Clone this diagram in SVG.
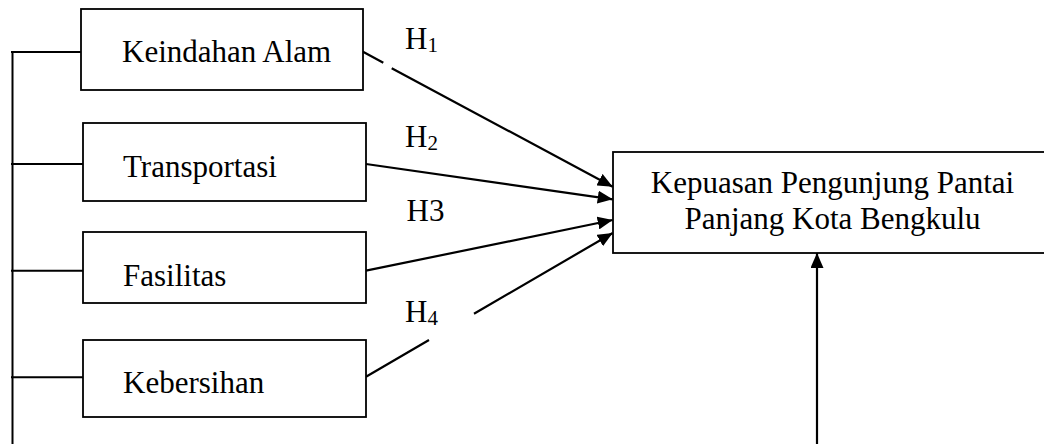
<svg xmlns="http://www.w3.org/2000/svg" width="1044" height="444" viewBox="0 0 1044 444">
  <style>
    .box { fill: #fff; stroke: #000; stroke-width: 1.8; }
    .lbl { font-family: "Liberation Serif", "Times New Roman", serif; font-size: 31px; fill: #000; }
    .sub { font-size: 21px; }
    .wire { fill: none; stroke: #000; stroke-width: 2; }
    .arrow { fill: none; stroke: #000; stroke-width: 2.2; marker-end: url(#head); }
  </style>
  <defs>
    <marker id="head" markerUnits="userSpaceOnUse" markerWidth="16" markerHeight="13" refX="15" refY="6.5" orient="auto">
      <path d="M0,0 L15,6.5 L0,13 z" fill="#000"/>
    </marker>
  </defs>
  <rect width="1044" height="444" fill="#fff"/>

  <!-- connectors -->
  <g id="connectors">
    <!-- left bracket tying the four factors together -->
    <path class="wire" d="M12.5,52 V444 M11,52 H81 M11,164 H83 M11,270.7 H83 M11,377.3 H83"/>
    <!-- hypothesis paths, broken where their labels sit -->
    <path class="arrow" d="M363,51.7 L383.3,62.7 M391.7,68.3 L612.7,186.7"/>
    <path class="arrow" d="M366,164 L612.7,199.3"/>
    <path class="arrow" d="M366,270.7 L612.7,220"/>
    <path class="arrow" d="M366,376.7 L429,340 M474,313.8 L612.7,233"/>
    <!-- incoming arrow from below -->
    <path class="arrow" d="M817,444 V253"/>
  </g>

  <!-- hypothesis labels -->
  <g id="labels">
    <text class="lbl" x="405" y="49.3">H<tspan class="sub" dy="3">1</tspan></text>
    <text class="lbl" x="405" y="146.7">H<tspan class="sub" dy="3">2</tspan></text>
    <text class="lbl" x="406.5" y="220.7">H3</text>
    <text class="lbl" x="405" y="322.3">H<tspan class="sub" dy="3">4</tspan></text>
  </g>

  <g id="keindahan-alam">
    <rect class="box" x="81" y="9" width="282" height="81"/>
    <text class="lbl" x="122" y="62">Keindahan Alam</text>
  </g>

  <g id="transportasi">
    <rect class="box" x="83" y="123" width="283" height="78"/>
    <text class="lbl" x="123" y="177">Transportasi</text>
  </g>

  <g id="fasilitas">
    <rect class="box" x="83" y="232" width="283" height="71"/>
    <text class="lbl" x="123" y="285.7">Fasilitas</text>
  </g>

  <g id="kebersihan">
    <rect class="box" x="83" y="340" width="283" height="77"/>
    <text class="lbl" x="123" y="392.7">Kebersihan</text>
  </g>

  <g id="kepuasan">
    <rect class="box" x="613" y="152" width="450" height="101"/>
    <text class="lbl" x="832.5" y="193" text-anchor="middle">Kepuasan Pengunjung Pantai</text>
    <text class="lbl" x="832.5" y="229" text-anchor="middle">Panjang Kota Bengkulu</text>
  </g>
</svg>
